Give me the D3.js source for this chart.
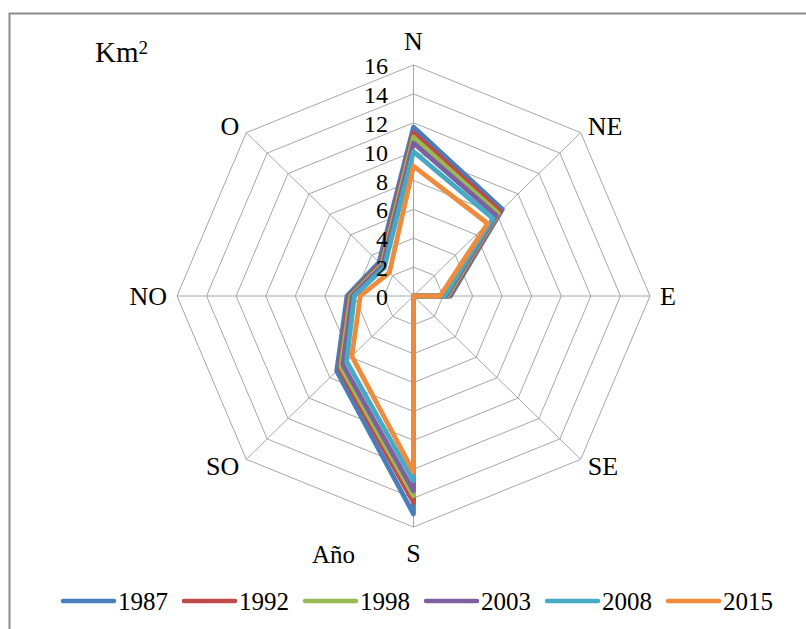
<!DOCTYPE html>
<html>
<head>
<meta charset="utf-8">
<script src="https://cdn.jsdelivr.net/npm/d3@7"></script>
<style>
  html, body { margin: 0; padding: 0; background: #fff; }
  svg { display: block; }
  text { font-family: "Liberation Serif", "Times New Roman", serif; fill: #000; }
</style>
</head>
<body>
<svg id="chart" width="806" height="629"></svg>
<script>
// Directions, clockwise from the top
const directions = ["N", "NE", "E", "SE", "S", "SO", "NO", "O"];
const years = ["1987", "1992", "1998", "2003", "2008", "2015"];
// Area (km²) per direction and year
const s1987 = [11.7, 8.5, 2.5, 0, 15.1, 7.35, 4.5, 3.3];
const s1992 = [11.3, 8.3, 2.4, 0, 14.3, 7.1, 4.35, 3.15];
const s1998 = [11.0, 8.1, 2.3, 0, 13.85, 6.95, 4.25, 3.05];
const s2003 = [10.6, 7.9, 2.2, 0, 13.5, 6.75, 4.15, 2.95];
const s2008 = [10.0, 7.6, 2.1, 0, 12.8, 6.4, 4.0, 2.8];
const s2015 = [9.0, 7.1, 1.8, 0, 12.2, 5.9, 3.6, 2.3];
const tickValues = [0, 2, 4, 6, 8, 10, 12, 14, 16];
const colors = ["#4A7EBB", "#BE4B48", "#98B954", "#7D60A0", "#46AAC5", "#EE8B3C"];

const seriesValues = [s1987, s1992, s1998, s2003, s2008, s2015];
const series = years.map((y, i) => ({ year: y, values: seriesValues[i], color: colors[i] }));

const svg = d3.select("#chart");
const cx = 413.5, cy = 296;
const rX = d3.scaleLinear().domain([0, 16]).range([0, 236.5]);
const rY = d3.scaleLinear().domain([0, 16]).range([0, 231]);
const angle = d3.scalePoint().domain(directions).range([0, 2 * Math.PI * 7 / 8]);

function px(dir, v) { return cx + rX(v) * Math.sin(angle(dir)); }
function py(dir, v) { return cy - rY(v) * Math.cos(angle(dir)); }

// Chart frame
svg.append("rect")
  .attr("x", 9.5).attr("y", 13.5)
  .attr("width", 820).attr("height", 640)
  .attr("fill", "none").attr("stroke", "#8c8c8c").attr("stroke-width", 2);

// Octagonal grid rings
const grid = svg.append("g").attr("stroke", "#a6a6a6").attr("stroke-width", 1).attr("fill", "none");
const ringLine = d3.line().x(d => d[0]).y(d => d[1]).curve(d3.curveLinearClosed);
tickValues.filter(t => t > 0).forEach(t => {
  grid.append("path").attr("d", ringLine(directions.map(d => [px(d, t), py(d, t)])));
});
// Spokes
directions.forEach(d => {
  grid.append("line")
    .attr("x1", cx).attr("y1", cy)
    .attr("x2", px(d, 16)).attr("y2", py(d, 16));
});

// Series polygons
const shape = d3.line()
  .x((v, i) => px(directions[i], v))
  .y((v, i) => py(directions[i], v))
  .curve(d3.curveLinearClosed);

svg.append("g").selectAll("path").data(series).join("path")
  .attr("d", s => shape(s.values))
  .attr("fill", "none")
  .attr("stroke", s => s.color)
  .attr("stroke-width", 4.8)
  .attr("stroke-linejoin", "round");

// Radial tick labels along the N spoke, above the series
svg.append("g").selectAll("text").data(tickValues).join("text")
  .attr("x", 388)
  .attr("y", t => py("N", t) + 9)
  .attr("text-anchor", "end")
  .attr("font-size", 24)
  .text(t => t);

// Direction labels
const labels = svg.append("g").attr("font-size", 26);
directions.forEach(d => {
  const a = angle(d);
  const sx = Math.sin(a), sy = -Math.cos(a);
  const vx = px(d, 16), vy = py(d, 16);
  let x = vx, y = vy, anchor = "middle";
  if (sx > 0.1) { anchor = "start"; x = vx + (Math.abs(sy) > 0.1 ? 7 : 10); }
  else if (sx < -0.1) { anchor = "end"; x = vx - (Math.abs(sy) > 0.1 ? 7 : 10); }
  if (Math.abs(sx) < 0.1) y = sy < 0 ? vy - 15 : vy + 35;
  else if (sy < -0.1) y = vy + 2;
  else if (sy > 0.1) y = vy + 16;
  else y = vy + 9;
  labels.append("text").attr("x", x).attr("y", y).attr("text-anchor", anchor).text(d);
});

// Unit label
const unit = svg.append("text").attr("x", 95).attr("y", 62).attr("font-size", 29);
unit.append("tspan").text("Km");
unit.append("tspan").attr("font-size", 19).attr("dy", -8).text("2");

// Legend title
svg.append("text").attr("x", 312).attr("y", 563).attr("font-size", 25).text("Año");

// Legend
const legendX = d3.scalePoint().domain(years).range([62, 667]);
const legend = svg.append("g").selectAll("g").data(series).join("g")
  .attr("transform", s => `translate(${legendX(s.year)},601)`);
legend.append("line")
  .attr("x1", 1).attr("x2", 52).attr("y1", 0).attr("y2", 0)
  .attr("stroke", s => s.color).attr("stroke-width", 4.5).attr("stroke-linecap", "round");
legend.append("text")
  .attr("x", 56).attr("y", 9)
  .attr("font-size", 25)
  .text(s => s.year);
</script>
</body>
</html>
